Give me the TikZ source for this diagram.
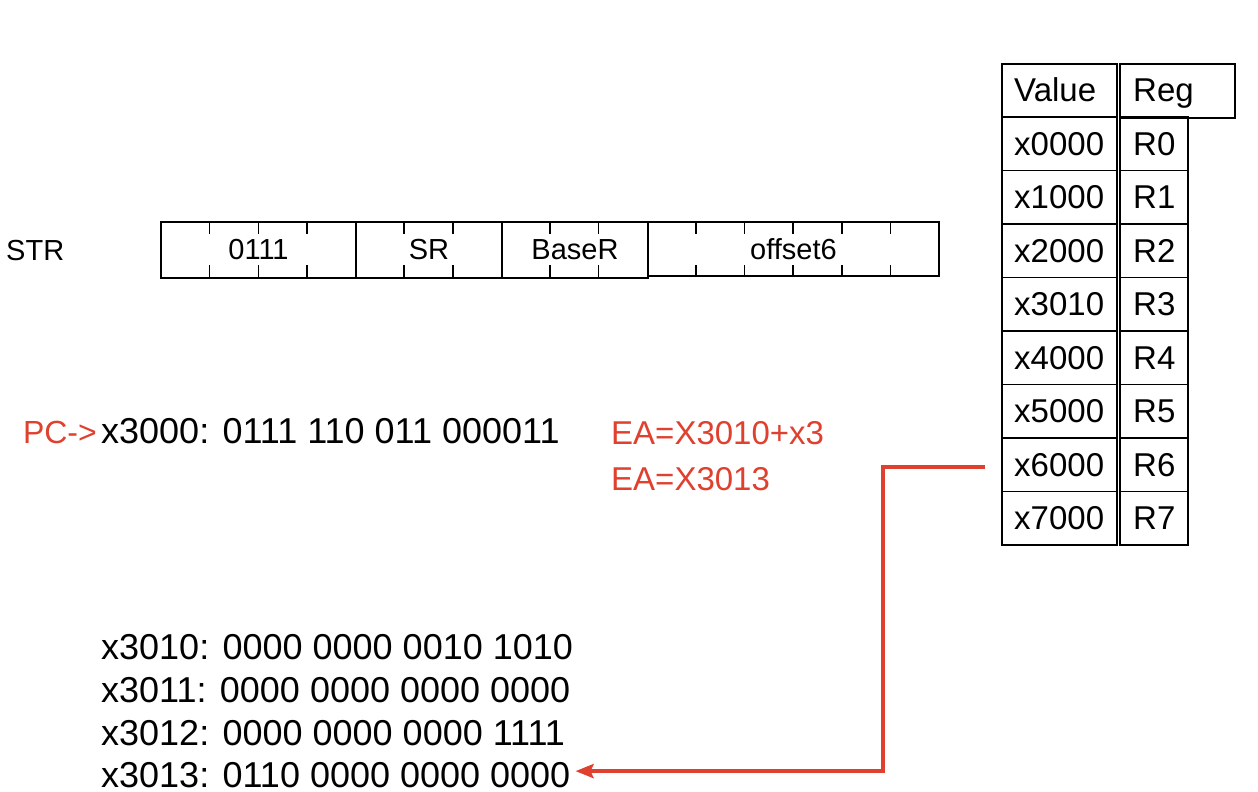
\documentclass[tikz,border=0pt]{standalone}
\usepackage{fontspec}
\setmainfont{Liberation Sans}
\usetikzlibrary{arrows.meta}
\definecolor{ered}{HTML}{E0402E}
\begin{document}
\begin{tikzpicture}[x=1pt,y=-1pt,
  fieldbox/.style={draw, line width=1.9pt, inner sep=0pt, font=\fontsize{29}{32}\selectfont},
  bittick/.style={line width=1.5pt},
  cell/.style={draw, line width=1.8pt, inner sep=0pt, outer sep=0pt},
  valcell/.style={cell, minimum width=115pt, minimum height=53.5pt},
  regcell/.style={cell, minimum width=68pt, minimum height=53.5pt},
  celltxt/.style={inner sep=0pt, anchor=base west, font=\fontsize{33}{38}\selectfont},
  memtxt/.style={inner sep=0pt, anchor=base west, font=\fontsize{36}{40}\selectfont},
  redtxt/.style={inner sep=0pt, anchor=base west, text=ered, font=\fontsize{33}{38}\selectfont},
  redarrow/.style={draw=ered, line width=4pt, -{Stealth[length=18pt,width=14pt,inset=3pt]}}
]
\useasboundingbox[fill=white] (0,0) rectangle (1258,792);

% instruction format
\node[inner sep=0pt, anchor=base west, font=\fontsize{29}{32}\selectfont] (str) at (6,260) {STR};
\node[fieldbox, minimum width=195pt, minimum height=56pt] (f1) at (258.5,250) {0111};
\node[fieldbox, minimum width=146pt, minimum height=56pt] (f2) at (429,250) {SR};
\node[fieldbox, minimum width=146pt, minimum height=56pt] (f3) at (575,250) {BaseR};
\node[fieldbox, minimum width=291pt, minimum height=54pt] (f4) at (793.5,249) {offset6};
\foreach \k in {1,2,3,5,6,8,9,11,12,13,14,15}{
  \draw[bittick] (161+48.625*\k,222) -- ++(0,12);
  \draw[bittick] (161+48.625*\k,277) -- ++(0,-12);
}

% PC line
\node[inner sep=0pt, anchor=base east, text=ered, font=\fontsize{32}{36}\selectfont] (pc) at (97,443) {PC->};
\node[memtxt] (ins) at (101,443) {x3000: 0111 110 011 000011};
\node[redtxt] (ea1) at (611,444) {EA=X3010+x3};
\node[redtxt] (ea2) at (611,490) {EA=X3013};

% memory
\node[memtxt] (m1) at (101,659) {x3010: 0000 0000 0010 1010};
\node[memtxt] (m2) at (101,702.5) {x3011: 0000 0000 0000 0000};
\node[memtxt] (m3) at (101,745.5) {x3012: 0000 0000 0000 1111};
\node[memtxt] (m4) at (101,787) {x3013: 0110 0000 0000 0000};

% register table
\node[valcell, minimum height=53pt] (vh) at (1059.5,90.5) {};
\node[cell, minimum width=115pt, minimum height=54pt] (rh) at (1177.5,91) {};
\node[celltxt] (vht) at (1014,101.5) {Value};
\node[celltxt] (rht) at (1133,101.5) {Reg};
\foreach \v/\r [count=\i from 0] in {x0000/R0,x1000/R1,x2000/R2,x3010/R3,x4000/R4,x5000/R5,x6000/R6,x7000/R7}{
  \node[valcell] (v\i) at (1059.5,143.75+53.5*\i) {};
  \node[regcell] (r\i) at (1154,143.75+53.5*\i) {};
  \node[celltxt] (vt\i) at (1014,155.25+53.5*\i) {\v};
  \node[celltxt] (rt\i) at (1133,155.25+53.5*\i) {\r};
}

% arrow
\coordinate (src) at (985,467);
\coordinate (bend) at (883,467);
\draw[redarrow] (src) -- (bend) |- ([xshift=5pt,yshift=3.5pt]m4.east);
\end{tikzpicture}
\end{document}
